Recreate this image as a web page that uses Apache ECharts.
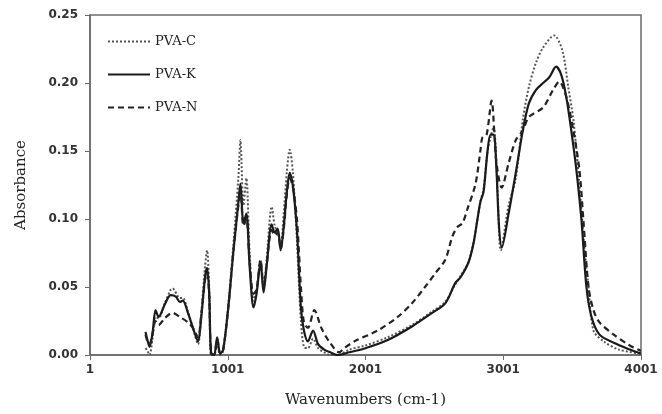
<!DOCTYPE html>
<html>
<head>
<meta charset="utf-8">
<script src="https://cdn.jsdelivr.net/npm/echarts@6/dist/echarts.min.js"></script>
<style>
  html, body { margin: 0; padding: 0; background: #fff; }
  #chart { width: 662px; height: 414px; }
</style>
</head>
<body>
<div id="chart"></div>
<script>
// PVA-C (dotted)
const cWave = [404,418,433,455,477,499,543,587,600,653,675,712,748,785,807,836,851,866,880,902,924,946,968,1005,1041,1078,1093,1115,1136,1160,1188,1210,1239,1261,1283,1320,1342,1364,1385,1408,1430,1451,1473,1503,1532,1554,1583,1620,1657,1701,1745,1800,1884,2000,2162,2338,2485,2580,2653,2690,2748,2785,2814,2836,2858,2887,2909,2931,2960,2983,3040,3092,3143,3187,3239,3290,3370,3430,3473,3510,3550,3590,3620,3656,3730,3840,4000];
const cAbs = [0.005,0.003,0.000,0.012,0.028,0.027,0.038,0.048,0.049,0.042,0.042,0.032,0.020,0.008,0.028,0.065,0.077,0.050,0.000,0.000,0.008,0.000,0.003,0.037,0.080,0.130,0.158,0.110,0.130,0.075,0.040,0.048,0.070,0.050,0.070,0.109,0.095,0.090,0.080,0.105,0.135,0.151,0.135,0.085,0.025,0.006,0.005,0.012,0.005,0.002,0.000,0.000,0.004,0.007,0.013,0.022,0.032,0.039,0.052,0.058,0.068,0.083,0.100,0.113,0.122,0.150,0.160,0.168,0.120,0.077,0.110,0.130,0.173,0.197,0.215,0.226,0.235,0.224,0.197,0.173,0.130,0.080,0.050,0.018,0.010,0.004,0.001];

// PVA-K (solid)
const kWave = [404,418,433,455,477,499,543,587,624,653,675,712,748,785,807,836,851,866,880,902,924,946,968,1005,1041,1078,1093,1115,1136,1160,1188,1210,1239,1261,1283,1320,1342,1364,1385,1408,1430,1451,1473,1503,1532,1554,1583,1620,1657,1701,1745,1796,1884,2000,2162,2338,2485,2580,2653,2690,2748,2785,2814,2836,2858,2887,2909,2931,2950,2970,2990,3040,3092,3143,3187,3239,3290,3334,3385,3422,3458,3495,3532,3569,3605,3642,3700,3803,3920,4000];
const kAbs = [0.017,0.011,0.006,0.016,0.033,0.028,0.037,0.044,0.043,0.039,0.040,0.031,0.020,0.010,0.026,0.057,0.064,0.046,0.001,0.000,0.013,0.001,0.004,0.035,0.075,0.112,0.126,0.097,0.104,0.065,0.035,0.045,0.068,0.046,0.065,0.096,0.090,0.093,0.077,0.095,0.120,0.134,0.125,0.092,0.035,0.018,0.010,0.018,0.008,0.004,0.002,0.000,0.002,0.005,0.011,0.021,0.031,0.038,0.053,0.057,0.068,0.082,0.100,0.113,0.120,0.150,0.162,0.162,0.140,0.095,0.079,0.104,0.134,0.165,0.185,0.195,0.200,0.204,0.212,0.206,0.190,0.165,0.136,0.099,0.050,0.028,0.015,0.009,0.004,0.001];

// PVA-N (dashed)
const nWave = [404,418,433,455,477,499,543,600,653,712,748,785,807,836,851,866,880,902,924,946,968,1005,1041,1078,1093,1115,1136,1160,1188,1210,1239,1261,1283,1320,1342,1364,1385,1408,1430,1451,1473,1503,1532,1554,1583,1630,1680,1737,1810,1847,1920,2089,2235,2338,2433,2507,2580,2631,2667,2705,2740,2800,2836,2850,2880,2916,2950,2990,3040,3092,3143,3187,3290,3363,3407,3458,3510,3554,3583,3620,3656,3700,3803,3920,4000];
const nAbs = [0.015,0.010,0.008,0.016,0.025,0.022,0.027,0.031,0.028,0.024,0.020,0.013,0.028,0.055,0.060,0.044,0.002,0.000,0.012,0.001,0.004,0.035,0.075,0.110,0.122,0.095,0.100,0.068,0.045,0.048,0.070,0.050,0.066,0.092,0.088,0.090,0.078,0.093,0.118,0.130,0.124,0.100,0.050,0.024,0.020,0.033,0.020,0.010,0.002,0.005,0.010,0.018,0.028,0.038,0.050,0.060,0.070,0.087,0.094,0.097,0.107,0.126,0.151,0.160,0.162,0.187,0.143,0.123,0.141,0.158,0.165,0.175,0.182,0.195,0.201,0.190,0.165,0.136,0.099,0.050,0.033,0.024,0.015,0.007,0.003];

const seriesNames = ['PVA-C', 'PVA-K', 'PVA-N'];

function zip(xs, ys) {
    return xs.map((x, i) => [x, ys[i]]);
}

var dom = document.getElementById('chart');
var myChart = echarts.init(dom, null, { renderer: 'canvas' });

const axisColor = '#6b6b6b';
const tickFont = { fontFamily: 'DejaVu Sans', fontSize: 12, fontWeight: 'bold', color: '#333' };

var option = {
    animation: false,
    grid: {
        left: 90,
        right: 21,
        top: 15,
        bottom: 59,
        show: true,
        borderColor: axisColor,
        borderWidth: 1.5
    },
    legend: {
        orient: 'vertical',
        left: 102,
        top: 30,
        itemGap: 20,
        itemWidth: 42,
        itemHeight: 14,
        itemStyle: { opacity: 0 },
        textStyle: { fontFamily: 'DejaVu Serif', fontSize: 13, color: '#222' },
        data: seriesNames
    },
    xAxis: {
        type: 'value',
        min: 1,
        max: 4001,
        interval: 1000,
        name: 'Wavenumbers (cm-1)',
        nameLocation: 'middle',
        nameGap: 38,
        nameTextStyle: { fontFamily: 'DejaVu Serif', fontSize: 15, color: '#222' },
        axisLine: { lineStyle: { color: axisColor, width: 1.5 } },
        axisTick: { length: 5, lineStyle: { color: axisColor } },
        axisLabel: Object.assign({ margin: 9, formatter: v => String(v) }, tickFont),
        splitLine: { show: false }
    },
    yAxis: {
        type: 'value',
        min: 0,
        max: 0.25,
        interval: 0.05,
        name: 'Absorbance',
        nameLocation: 'middle',
        nameGap: 61,
        nameTextStyle: { fontFamily: 'DejaVu Serif', fontSize: 15, color: '#222' },
        axisLine: { show: true, lineStyle: { color: axisColor, width: 1.5 } },
        axisTick: { show: true, length: 5, lineStyle: { color: axisColor } },
        axisLabel: Object.assign({ margin: 12, formatter: v => v.toFixed(2) }, tickFont),
        splitLine: { show: false }
    },
    series: [
        {
            name: 'PVA-C',
            type: 'line',
            symbol: 'none',
            smooth: 0.3,
            data: zip(cWave, cAbs),
            lineStyle: { color: '#555', width: 2, type: [2, 2] },
            itemStyle: { color: '#555' }
        },
        {
            name: 'PVA-K',
            type: 'line',
            symbol: 'none',
            smooth: 0.3,
            data: zip(kWave, kAbs),
            lineStyle: { color: '#1a1a1a', width: 2.2, type: 'solid' },
            itemStyle: { color: '#1a1a1a' }
        },
        {
            name: 'PVA-N',
            type: 'line',
            symbol: 'none',
            smooth: 0.3,
            data: zip(nWave, nAbs),
            lineStyle: { color: '#222', width: 2.2, type: [6, 4] },
            itemStyle: { color: '#222' }
        }
    ]
};

myChart.setOption(option);
window.addEventListener('resize', myChart.resize);
</script>
</body>
</html>
